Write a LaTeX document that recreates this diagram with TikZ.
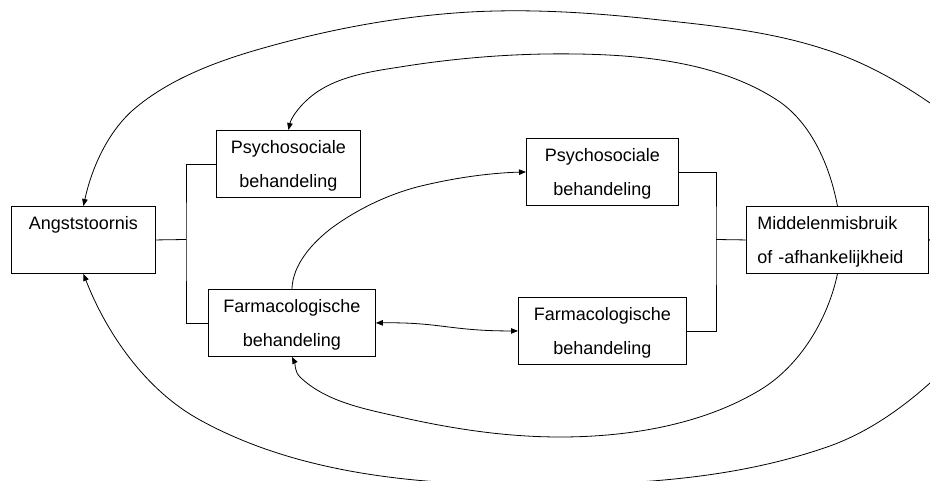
\documentclass[tikz,border=0pt]{standalone}
\usepackage{fontspec}
\setmainfont{Liberation Sans}
\usetikzlibrary{arrows.meta}
\begin{document}
\begin{tikzpicture}[x=1pt,y=-1pt,
  box/.style={draw, line width=0.9pt, inner sep=0pt, align=center, anchor=north west,
    font=\fontsize{18}{33.5}\selectfont},
  link/.style={line width=0.8pt},
  tip/.style={-{Triangle[length=7pt,width=5.5pt]}},
  tips/.style={{Triangle[length=7pt,width=5.5pt]}-{Triangle[length=7pt,width=5.5pt]}},
]
\useasboundingbox (0,0) rectangle (930,481);
\clip (0,0) rectangle (930,481);

% boxes
\node[box, minimum width=144pt, minimum height=67pt] (ang) at (11,206) {\strut Angststoornis\\\strut};
\node[box, minimum width=144pt, minimum height=67pt] (psyA) at (216,130) {\strut Psychosociale\\\strut behandeling};
\node[box, minimum width=167pt, minimum height=67pt] (farA) at (208,289) {\strut Farmacologische\\\strut behandeling};
\node[box, minimum width=152pt, minimum height=66pt] (psyB) at (526,138) {\strut Psychosociale\\\strut behandeling};
\node[box, minimum width=168pt, minimum height=66pt] (farB) at (518,297) {\strut Farmacologische\\\strut behandeling};
\node[box, minimum width=182pt, minimum height=67pt, align=left, text width=160pt, inner xsep=11pt]
  (mid) at (746,206) {\strut Middelenmisbruik\\\strut of -afhankelijkheid};

% bracket connectors
\coordinate (jl) at (186,239.5);
\draw[link] (ang.east) -- (jl);
\draw[link] (psyA.west) -| (jl) |- (farA.west);
\coordinate (jr) at (716,239.5);
\draw[link] (psyB.east) -| (jr) |- (farB.east);
\draw[link] (jr) -- (mid.west);

% outer loop over the top
\draw[link,tip] (mid.east)
  .. controls (975,240) and (979,137) .. (930,103)
  .. controls (898,81) and (864,62) .. (827,50)
  .. controls (773,32) and (717,26) .. (660,20)
  .. controls (597,13) and (533,8.5) .. (470,12)
  .. controls (401,16) and (333,28.5) .. (267,47)
  .. controls (220,60) and (170,78) .. (133,110)
  .. controls (106,134) and (91,171) .. (ang.north);

% outer loop under the bottom
\draw[link,tip] (mid.east)
  .. controls (975,240) and (974,342) .. (930,383)
  .. controls (900,410) and (865,434) .. (827,447)
  .. controls (732,480) and (630,485) .. (530,485)
  .. controls (418,485) and (298,474) .. (200,420)
  .. controls (145,390) and (106,332) .. (ang.south);

% inner loop over the top
\draw[link,tip] (mid.north)
  .. controls (830,166) and (811,122) .. (777,100)
  .. controls (720,63) and (645,55) .. (577,54)
  .. controls (518,53) and (458,57.6) .. (400,67)
  .. controls (367,72) and (331,77.6) .. (307,100)
  .. controls (298,108) and (291,118.5) .. (psyA.north);

% inner loop under the bottom
\draw[link,tip] (mid.south)
  .. controls (828,319) and (800,366) .. (760,390)
  .. controls (702,425) and (628,437) .. (560,437)
  .. controls (506,437) and (453,429) .. (400,417)
  .. controls (365,409) and (326,402) .. (300,377)
  .. controls (294.5,371.7) and (295,363) .. (farA.south);

% pharmacological links
\draw[link,tip] (farA.north)
  .. controls (292.7,264) and (313,242) .. (333,227)
  .. controls (358,209) and (387,195) .. (417,187)
  .. controls (453,178) and (489,173) .. (psyB.west);
\draw[link,tips] (farA.east) .. controls (440,322) and (450,331) .. (farB.west);
\end{tikzpicture}
\end{document}
